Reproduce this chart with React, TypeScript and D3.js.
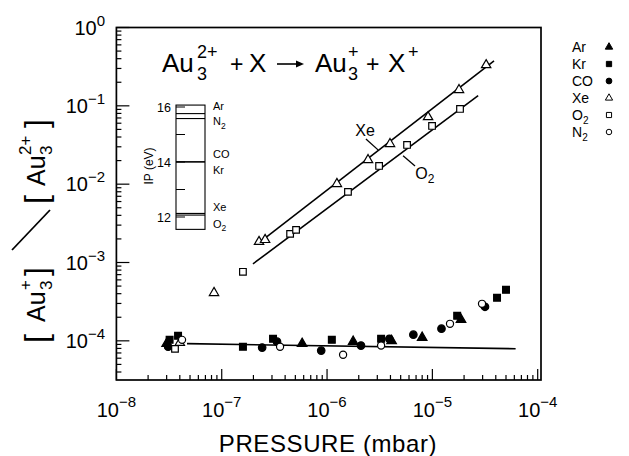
import React from "react";
import * as d3 from "d3";

const FONT = "'Liberation Sans', Arial, sans-serif";

// pressure (mbar) , [Au3+]/[Au3 2+]
const arData: [number, number][] = [
  [3.0e-8, 9.2e-5], [5.8e-7, 9.2e-5], [1.77e-6, 9.8e-5], [4.1e-6, 1.0e-4],
  [8.0e-6, 1.1e-4], [1.87e-5, 1.86e-4],
];
const krData: [number, number][] = [
  [3.2e-8, 1.03e-4], [3.85e-8, 1.16e-4], [1.59e-7, 8.4e-5], [3.07e-7, 1.06e-4],
  [1.11e-6, 1.03e-4], [3.26e-6, 1.06e-4], [1.72e-5, 2.09e-4], [4.11e-5, 3.55e-4],
  [5.0e-5, 4.48e-4],
];
const coData: [number, number][] = [
  [3.1e-8, 8.4e-5], [2.42e-7, 8.2e-5], [3.35e-7, 9.75e-5], [8.8e-7, 7.5e-5],
  [2.1e-6, 8.7e-5], [3.9e-6, 1.06e-4], [6.6e-6, 1.2e-4], [1.22e-5, 1.43e-4],
  [3.16e-5, 2.72e-4],
];
const xeData: [number, number][] = [
  [4.0e-8, 9.5e-5], [8.45e-8, 4.1e-4], [2.26e-7, 1.84e-3], [2.58e-7, 1.95e-3],
  [1.24e-6, 1.01e-2], [2.45e-6, 2.04e-2], [3.96e-6, 3.27e-2], [9.1e-6, 7.2e-2],
  [1.79e-5, 0.16], [3.24e-5, 0.332],
];
const o2Data: [number, number][] = [
  [3.6e-8, 7.9e-5], [1.59e-7, 7.6e-4], [4.46e-7, 2.32e-3], [5.08e-7, 2.61e-3],
  [1.58e-6, 7.97e-3], [3.12e-6, 1.71e-2], [5.75e-6, 3.17e-2], [9.93e-6, 5.54e-2],
  [1.83e-5, 9.13e-2],
];
const n2Data: [number, number][] = [
  [4.2e-8, 1.03e-4], [3.58e-7, 8.4e-5], [1.42e-6, 6.65e-5], [3.26e-6, 8.7e-5],
  [1.47e-5, 1.65e-4], [2.96e-5, 2.97e-4],
];

// fitted lines
const xeFit: [number, number][] = [[2.4e-7, 1.9e-3], [3.85e-5, 0.374]];
const o2Fit: [number, number][] = [[1.98e-7, 9.6e-4], [2.72e-5, 0.135]];
const baseFit: [number, number][] = [[4.68e-8, 9.2e-5], [6.17e-5, 7.93e-5]];

const xMajor = [1e-8, 1e-7, 1e-6, 1e-5, 1e-4];
const xMajorExp = ["\u22128", "\u22127", "\u22126", "\u22125", "\u22124"];
const yMajor = [1, 1e-1, 1e-2, 1e-3, 1e-4];
const yMajorExp = ["0", "\u22121", "\u22122", "\u22123", "\u22124"];

// inset: ionisation potentials (eV)
const ipGas = ["Ar", "N", "CO", "Kr", "Xe", "O"];
const ipSub = ["", "2", "", "", "", "2"];
const ipValue = [15.76, 15.58, 14.01, 14.0, 12.13, 12.07];
const ipLabelDy = [-3.5, 6.5, -4, 11.5, -2, 12.5];
const ipTicks = [12, 13, 14, 15, 16];
const ipTickLabels = [12, 14, 16];

type Series = { name: string; sub: string; data: [number, number][]; shape: d3.SymbolType; filled: boolean; size: number };
const series: Series[] = [
  { name: "Ar", sub: "", data: arData, shape: d3.symbolTriangle, filled: true, size: 40 },
  { name: "Kr", sub: "", data: krData, shape: d3.symbolSquare, filled: true, size: 46 },
  { name: "CO", sub: "", data: coData, shape: d3.symbolCircle, filled: true, size: 44 },
  { name: "Xe", sub: "", data: xeData, shape: d3.symbolTriangle, filled: false, size: 38 },
  { name: "O", sub: "2", data: o2Data, shape: d3.symbolSquare, filled: false, size: 44 },
  { name: "N", sub: "2", data: n2Data, shape: d3.symbolCircle, filled: false, size: 40 },
];

const left = 116.4, right = 537.7, top = 27.5, bottom = 380, frameRight = 541;
const legendY0 = 47, legendStep = 17;

export default function App() {
  const xs = d3.scaleLog().domain([1e-8, 1e-4]).range([left, right]);
  const ys = d3.scaleLog().domain([Math.pow(10, -4.5), 1]).range([bottom, top]);
  const ip = d3.scaleLinear().domain([12, 16]).range([217, 107]);
  const line = d3.line<[number, number]>().x((d) => xs(d[0])).y((d) => ys(d[1]));
  const isMajor = (v: number) => Math.abs(Math.log10(v) - Math.round(Math.log10(v))) < 1e-6;

  const insetL = 176, insetR = 205;

  return (
    <svg width={629} height={456} style={{ position: "absolute", left: 0, top: 0, background: "#fff" }} fontFamily={FONT}>
      <rect x={0} y={0} width={629} height={456} fill="#fff" />
      {/* frame */}
      <rect x={left} y={top} width={frameRight - left} height={bottom - top} fill="none" stroke="#000" strokeWidth={1.7} />
      {/* x ticks */}
      {xs.ticks().filter((v) => v <= 1e-4).map((v, i) => (
        <line key={"xt" + i} x1={xs(v)} x2={xs(v)} y1={bottom} y2={bottom - (isMajor(v) ? 11 : 5)} stroke="#000" strokeWidth={1.2} />
      ))}
      {ys.ticks().map((v, i) => (
        <line key={"yt" + i} x1={left} x2={left + (isMajor(v) ? 13 : 5)} y1={ys(v)} y2={ys(v)} stroke="#000" strokeWidth={1.2} />
      ))}
      {xMajor.map((v, i) => (
        <text key={"xl" + i} x={xs(v)} y={417} textAnchor="middle" fontSize={20}>
          10<tspan dy={-10} fontSize={15}>{xMajorExp[i]}</tspan>
        </text>
      ))}
      {yMajor.map((v, i) => (
        <text key={"yl" + i} x={105} y={ys(v) + 7} textAnchor="end" fontSize={20}>
          10<tspan dy={-9} fontSize={15}>{yMajorExp[i]}</tspan>
        </text>
      ))}
      <text x={328} y={452} textAnchor="middle" fontSize={24} letterSpacing={0.6}>PRESSURE  (mbar)</text>

      {/* y title */}
      <g transform="translate(45,230) rotate(-90)" fontSize={25}>
        <text x={-113} y={2} fontSize={32}>[</text>
        <text x={-92} y={0}>Au</text>
        <text x={-60} y={7} fontSize={17}>3</text>
        <text x={-60} y={-14} fontSize={17}>+</text>
        <text x={-46} y={2} fontSize={32}>]</text>
        <line x1={-20} y1={-33} x2={20} y2={5} stroke="#000" strokeWidth={1.8} />
        <text x={26} y={2} fontSize={32}>[</text>
        <text x={44} y={0}>Au</text>
        <text x={75} y={7} fontSize={17}>3</text>
        <text x={75} y={-14} fontSize={17}>2+</text>
        <text x={102} y={2} fontSize={32}>]</text>
      </g>

      {/* title */}
      <g fontSize={26}>
        <text x={162} y={72}>Au</text>
        <text x={197} y={80} fontSize={18}>3</text>
        <text x={197} y={58} fontSize={18}>2+</text>
        <text x={230} y={72} fontSize={23}>+</text>
        <text x={249} y={72}>X</text>
        <line x1={277} x2={298} y1={64} y2={64} stroke="#000" strokeWidth={1.6} />
        <path d="M304,64 L296,60.5 L296,67.5 Z" fill="#000" />
        <text x={315} y={72}>Au</text>
        <text x={348} y={80} fontSize={18}>3</text>
        <text x={348} y={58} fontSize={18}>+</text>
        <text x={366} y={72} fontSize={23}>+</text>
        <text x={388} y={72}>X</text>
        <text x={408} y={58} fontSize={18}>+</text>
      </g>

      {/* fit lines */}
      <path d={line(xeFit) || ""} fill="none" stroke="#000" strokeWidth={1.6} />
      <path d={line(o2Fit) || ""} fill="none" stroke="#000" strokeWidth={1.6} />
      <path d={line(baseFit) || ""} fill="none" stroke="#000" strokeWidth={1.6} />

      {/* points */}
      {series.map((s) =>
        s.data.map((d, i) => (
          <path
            key={s.name + s.sub + i}
            transform={`translate(${xs(d[0])},${ys(d[1])})`}
            d={d3.symbol().type(s.shape).size(s.size)() || ""}
            fill={s.filled ? "#000" : "#fff"}
            stroke="#000"
            strokeWidth={1.2}
          />
        ))
      )}

      {/* annotations */}
      <text x={xs(2.3e-6)} y={ys(4.9e-2) + 6} textAnchor="middle" fontSize={16}>Xe</text>
      <line x1={xs(2.34e-6)} y1={ys(3.78e-2)} x2={xs(3.05e-6)} y2={ys(2.74e-2)} stroke="#000" strokeWidth={1.3} />
      <text x={xs(8.5e-6)} y={ys(1.39e-2) + 6} textAnchor="middle" fontSize={16}>O<tspan dy={4} fontSize={12}>2</tspan></text>
      <line x1={xs(6.84e-6)} y1={ys(1.71e-2)} x2={xs(5.27e-6)} y2={ys(2.3e-2)} stroke="#000" strokeWidth={1.3} />

      {/* inset */}
      <rect x={insetL} y={ip(16.07)} width={insetR - insetL} height={ip(11.55) - ip(16.07)} fill="#fff" stroke="#000" strokeWidth={1.1} />
      {ipTicks.map((t) => (
        <line key={"ipt" + t} x1={insetL} x2={insetL + 9} y1={ip(t)} y2={ip(t)} stroke="#000" strokeWidth={1} />
      ))}
      {ipValue.map((v, i) => (
        <line key={"ipl" + i} x1={insetL} x2={insetR} y1={ip(v)} y2={ip(v)} stroke="#000" strokeWidth={1.1} />
      ))}
      {ipTickLabels.map((t) => (
        <text key={"iptl" + t} x={171} y={ip(t) + 4.5} textAnchor="end" fontSize={12.5}>{t}</text>
      ))}
      {ipGas.map((g, i) => (
        <text key={"ipg" + i} x={213} y={ip(ipValue[i]) + ipLabelDy[i]} fontSize={11}>
          {g}
          {ipSub[i] && <tspan dy={3.5} fontSize={8.5}>{ipSub[i]}</tspan>}
        </text>
      ))}
      <text transform="translate(153,166) rotate(-90)" textAnchor="middle" fontSize={12}>IP (eV)</text>

      {/* legend */}
      {series.map((s, i) => (
        <g key={"lg" + i}>
          <text x={572} y={legendY0 + i * legendStep + 5} fontSize={14}>
            {s.name}
            {s.sub && <tspan dy={4} fontSize={10}>{s.sub}</tspan>}
          </text>
          <path
            transform={`translate(609,${legendY0 + i * legendStep})`}
            d={d3.symbol().type(s.shape).size(s.size * 0.6)() || ""}
            fill={s.filled ? "#000" : "#fff"}
            stroke="#000"
            strokeWidth={1}
          />
        </g>
      ))}
    </svg>
  );
}
